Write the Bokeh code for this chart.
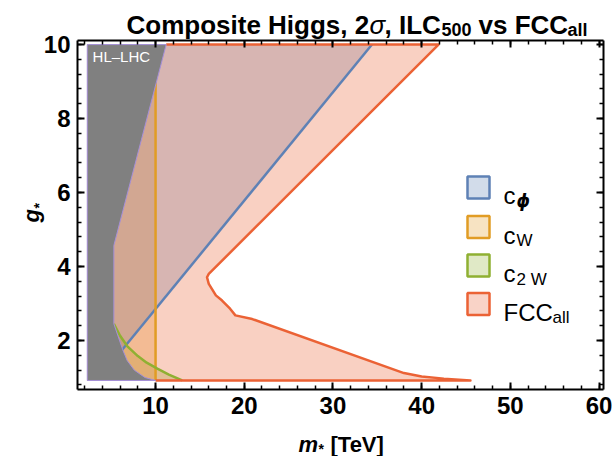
import math
from bokeh.plotting import figure
from bokeh.models import (Range1d, LinearAxis, SingleIntervalTicker, Label,
                          BoxAnnotation, CustomJSTickFormatter)
from bokeh.embed import file_html
from bokeh.resources import INLINE

# ---------------- data ----------------
m_lo = 2.3        # left edge of the scanned region [TeV]
g_lo = 0.92       # lower edge of the scanned region

# HL-LHC excluded region (grey)
hl_m = [2.3, 2.3, 11.2, 5.3, 5.3, 6.3, 6.8, 7.6, 8.8, 10.0]
hl_g = [0.92, 10.0, 10.0, 4.57, 2.45, 1.75, 1.46, 1.2, 1.0, 0.92]

# c_phi boundary (blue)
cphi_m = [6.17, 34.4]
cphi_g = [1.73, 10.0]

# c_W boundary (orange)
cW_m = [10.0, 10.0]
cW_g = [0.92, 10.0]

# c_2W boundary (green)
c2W_m = [5.3, 6.0, 6.8, 8.0, 9.0, 10.2, 11.5, 13.0]
c2W_g = [2.45, 2.13, 1.85, 1.58, 1.40, 1.24, 1.08, 0.92]

# FCC_all boundary (red)
fcc_m = [10.0, 45.5, 42.5, 40.0, 38.0, 20.9, 19.0, 18.4, 17.5, 16.8, 16.0, 15.8, 16.0, 41.9, 11.2]
fcc_g = [0.92, 0.92, 0.97, 1.03, 1.12, 2.58, 2.68, 2.86, 3.08, 3.22, 3.53, 3.71, 3.80, 10.0, 10.0]

# plot box (axis ranges) and tick spacing
x_box = (1.2, 60.5)
y_box = (0.676, 10.11)
x_tick_step = 10
y_tick_step = 2

legend_names = ["c", "c", "c", "FCC"]
legend_subs = ["\u03d5", "W", "2 W", "all"]

BLUE = "#5E81B5"
ORANGE = "#E19C24"
GREEN = "#8FB032"
RED = "#EB6235"
FONT = "Liberation Sans"

# ---------------- layout geometry (pixels) ----------------
W, H = 615, 456
BL, BR, BT, BB = 77, 603, 40, 389   # plot-box edges in canvas px

sx = (BR - BL) / (x_box[1] - x_box[0])
sy = (BB - BT) / (y_box[1] - y_box[0])
xr = Range1d(x_box[0] - BL / sx, x_box[1] + (W - BR) / sx)
yr = Range1d(y_box[0] - (H - BB) / sy, y_box[1] + BT / sy)

p = figure(width=W, height=H, output_backend="svg", toolbar_location=None,
           x_range=xr, y_range=yr, x_axis_type=None, y_axis_type=None,
           min_border=0)
p.grid.visible = False
p.outline_line_color = None
p.background_fill_color = "white"
p.border_fill_color = "white"
p.title.text = ""

def make_axis(side, labels):
    horiz = side in ("below", "above")
    step = x_tick_step if horiz else y_tick_step
    loc = {"below": y_box[0], "above": y_box[1], "left": x_box[0], "right": x_box[1]}[side]
    ax = LinearAxis(ticker=SingleIntervalTicker(interval=step, num_minor_ticks=5),
                    fixed_location=loc, bounds=x_box if horiz else y_box)
    ax.axis_line_width = 2
    ax.axis_line_color = "black"
    ax.major_tick_in = 7
    ax.major_tick_out = 0
    ax.minor_tick_in = 4
    ax.minor_tick_out = 0
    ax.major_tick_line_width = 2
    ax.minor_tick_line_width = 1.5
    ax.major_tick_line_color = "black"
    ax.minor_tick_line_color = "black"
    if labels:
        ax.major_label_text_font = FONT
        ax.major_label_text_font_style = "bold"
        ax.major_label_text_font_size = "24px"
        ax.major_label_text_color = "black"
        ax.major_label_standoff = 7
    else:
        ax.formatter = CustomJSTickFormatter(code="return ''")
    p.add_layout(ax, side)

# ---------------- regions ----------------
c2W_fill_m = [m_lo] + c2W_m + [m_lo]
c2W_fill_g = [c2W_g[0]] + c2W_g + [g_lo]
p.patch(c2W_fill_m, c2W_fill_g, fill_color=GREEN, fill_alpha=0.3, line_alpha=0)

cW_fill_m = [m_lo] + cW_m + [m_lo]
cW_fill_g = [g_lo] + cW_g + [cW_g[-1]]
p.patch(cW_fill_m, cW_fill_g, fill_color=ORANGE, fill_alpha=0.3, line_alpha=0)

cphi_fill_m = cphi_m + [m_lo, m_lo]
cphi_fill_g = cphi_g + [cphi_g[-1], cphi_g[0]]
p.patch(cphi_fill_m, cphi_fill_g, fill_color=BLUE, fill_alpha=0.3, line_alpha=0)

fcc_fill_m = [m_lo] + fcc_m + [m_lo]
fcc_fill_g = [g_lo] + fcc_g + [fcc_g[-1]]
p.patch(fcc_fill_m, fcc_fill_g, fill_color=RED, fill_alpha=0.3, line_alpha=0)

p.line(cphi_m, cphi_g, line_color=BLUE, line_width=2.5)
p.line(cW_m, cW_g, line_color=ORANGE, line_width=2.5)
p.line(c2W_m, c2W_g, line_color=GREEN, line_width=2.5)
p.line(fcc_m, fcc_g, line_color=RED, line_width=2.5, line_join="round")

p.patch(hl_m, hl_g, fill_color="#808080", fill_alpha=1.0,
        line_color="#A58FD8", line_width=1)

p.add_layout(Label(x=2.9, y=9.68, text="HL\u2013LHC", text_color="white",
                   text_font=FONT, text_font_size="15px", text_baseline="middle"))

make_axis("below", True)
make_axis("left", True)
make_axis("above", False)
make_axis("right", False)

def slabel(cx, cy, text, size, style="normal", font=FONT, align="left", angle=0.0):
    # cx, cy in canvas pixels (y downward); frame == whole canvas
    p.add_layout(Label(x=cx, y=H - cy, x_units="screen", y_units="screen",
                       text=text, text_font=font, text_font_size=size,
                       text_font_style=style, text_align=align,
                       text_baseline="alphabetic", angle=angle, text_color="black"))

# ---------------- legend ----------------
leg_cols = [BLUE, ORANGE, GREEN, RED]
leg_centers = [187, 226.5, 265, 303.5]
for nm, sub, c, cy in zip(legend_names, legend_subs, leg_cols, leg_centers):
    p.add_layout(BoxAnnotation(left=467, right=489, bottom=H - (cy + 11), top=H - (cy - 11),
                               left_units="screen", right_units="screen",
                               bottom_units="screen", top_units="screen",
                               fill_color=c, fill_alpha=0.28,
                               line_color=c, line_alpha=1.0, line_width=2.5))
    slabel(503, cy + 8, nm, "24px")
    if nm == "FCC":
        slabel(552, cy + 13.5, sub, "17px")
    elif sub == "\u03d5":
        slabel(516, cy + 13, sub, "17px", "bold italic", "DejaVu Sans")
    else:
        slabel(516, cy + 13.5, sub, "17px")

# ---------------- title ----------------
slabel(126, 24, "Composite Higgs, 2", "26px", "bold")
slabel(369, 24, "\u03c3", "26px", "italic")
slabel(384, 24, ", ILC", "26px", "bold")
slabel(441, 29, "500", "18px", "bold")
slabel(478, 24, "vs FCC", "26px", "bold")
slabel(567, 29, "all", "18px", "bold")

# ---------------- axis titles ----------------
slabel(298, 444, "m", "22px", "bold italic")
slabel(318, 448, "*", "14px", "bold")
slabel(330, 444, "[TeV]", "22px", "bold")

slabel(31, 222, "g", "22px", "bold italic", angle=math.pi / 2)
slabel(38, 208, "*", "14px", "bold", angle=math.pi / 2)

open("out.html", "w").write(file_html(p, INLINE))
